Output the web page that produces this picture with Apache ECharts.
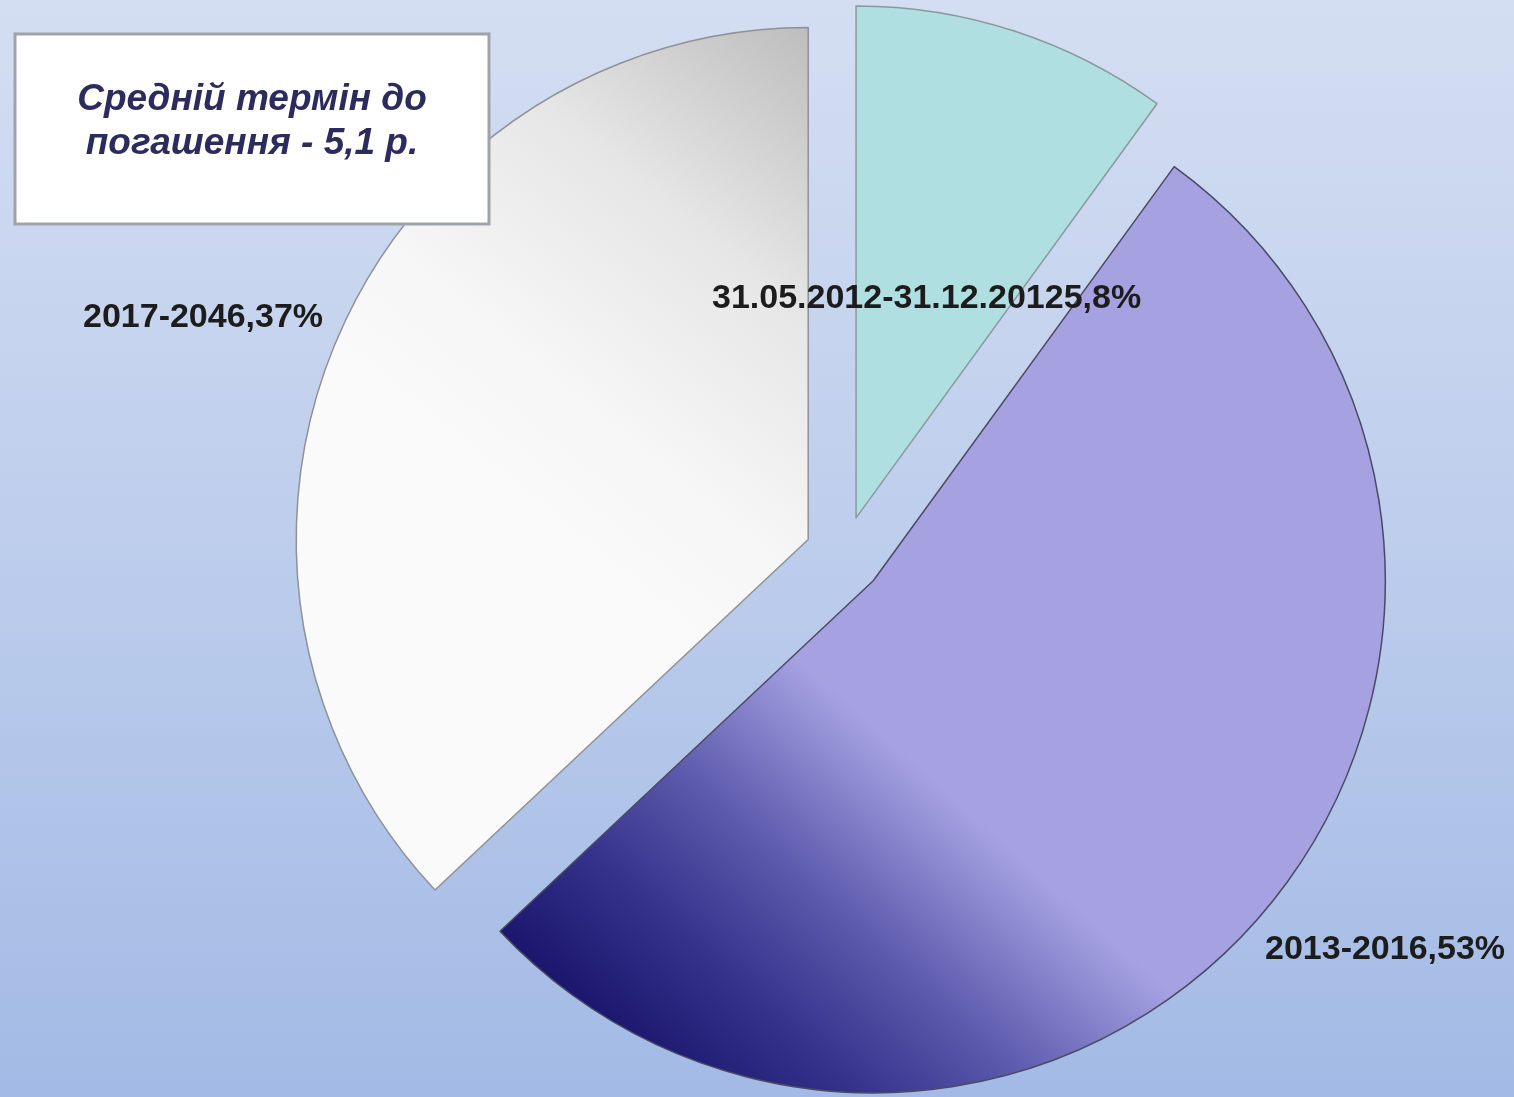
<!DOCTYPE html>
<html>
<head>
<meta charset="utf-8">
<style>
html,body{margin:0;padding:0;width:1514px;height:1097px;overflow:hidden;}
#chart{width:1514px;height:1097px;}
</style>
<script src="https://cdn.jsdelivr.net/npm/echarts@6/dist/echarts.min.js"></script>
</head>
<body>
<div id="chart"></div>
<script>
// ---- data ----
const categories = ['31.05.2012-31.12.2012', '2013-2016', '2017-2046'];
const values = [10, 53, 37];
const labelTexts = ['31.05.2012-31.12.20125,8%', '2013-2016,53%', '2017-2046,37%'];
const noteLines = ['Средній термін до', 'погашення - 5,1 р.'];

// ---- layout / styles ----
const labelPos = [[712, 299], [1265, 950], [83, 318]];
const sliceStyles = [
  { color: '#b0dfe2', borderColor: '#8a9a9c', borderWidth: 1.5 },
  {
    color: {
      type: 'linear', x: 0.073, y: 0.886, x2: 0.376, y2: 0.563,
      colorStops: [
        { offset: 0, color: '#1b176e' },
        { offset: 0.3, color: '#35338c' },
        { offset: 0.6, color: '#5d5bad' },
        { offset: 0.85, color: '#8b88cf' },
        { offset: 1, color: '#a6a2e2' }
      ]
    },
    borderColor: '#4a4a62', borderWidth: 1.5
  },
  {
    color: {
      type: 'linear', x: 1, y: 0, x2: 0.3, y2: 0.51,
      colorStops: [
        { offset: 0, color: '#bdbdbd' },
        { offset: 0.4, color: '#e6e6e6' },
        { offset: 0.75, color: '#f6f6f6' },
        { offset: 1, color: '#fafafa' }
      ]
    },
    borderColor: '#8e9296', borderWidth: 1.5
  }
];

const chart = echarts.init(document.getElementById('chart'));
const pieData = categories.map((name, i) => ({
  name: name,
  value: values[i],
  selected: true,
  itemStyle: sliceStyles[i],
  select: { itemStyle: sliceStyles[i] },
  emphasis: { itemStyle: sliceStyles[i] }
}));

const labelGraphics = labelTexts.map((t, i) => ({
  type: 'text',
  z: 20,
  x: labelPos[i][0],
  y: labelPos[i][1],
  style: {
    text: t,
    align: 'left',
    verticalAlign: 'middle',
    fontFamily: '"Liberation Sans", Arial, sans-serif',
    fontWeight: 'bold',
    fontSize: 34,
    fill: '#1c1c1c'
  }
}));

chart.setOption({
  animation: false,
  backgroundColor: {
    type: 'linear', x: 0, y: 0, x2: 0, y2: 1,
    colorStops: [
      { offset: 0, color: '#d4def2' },
      { offset: 0.5, color: '#bdcdec' },
      { offset: 1, color: '#a2bae5' }
    ]
  },
  series: [{
    type: 'pie',
    center: [844, 555],
    radius: [0, 512],
    startAngle: 90,
    clockwise: true,
    selectedMode: 'multiple',
    selectedOffset: 39,
    avoidLabelOverlap: false,
    emphasis: { scale: false },
    label: { show: false },
    labelLine: { show: false },
    data: pieData,
    z: 2
  }],
  graphic: [
    {
      type: 'rect',
      z: 10,
      shape: { x: 15, y: 34, width: 474, height: 190 },
      style: { fill: '#ffffff', stroke: '#9ea3ab', lineWidth: 3 }
    },
    {
      type: 'text',
      z: 11,
      x: 252,
      y: 122,
      style: {
        text: noteLines.join('\n'),
        align: 'center',
        verticalAlign: 'middle',
        fontFamily: '"Liberation Sans", Arial, sans-serif',
        fontStyle: 'italic',
        fontWeight: 'bold',
        fontSize: 37,
        lineHeight: 44,
        fill: '#2c2b5e'
      }
    }
  ].concat(labelGraphics)
});
</script>
</body>
</html>
